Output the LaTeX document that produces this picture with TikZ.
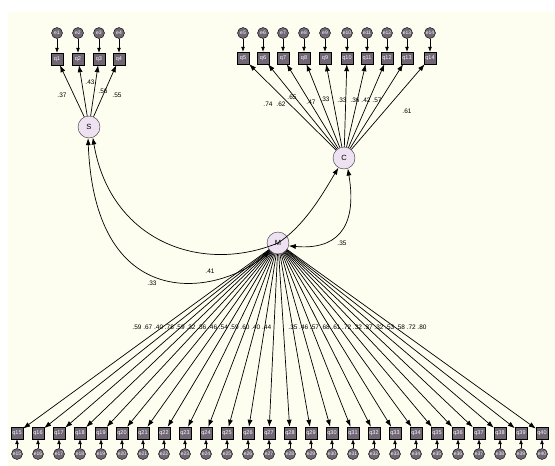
\documentclass[tikz,border=0pt]{standalone}
\usepackage{fontspec}
\setmainfont{Liberation Sans}
\usetikzlibrary{arrows.meta}
\definecolor{cream}{RGB}{253,253,240}
\definecolor{latfill}{RGB}{238,226,242}
\definecolor{obsfill}{RGB}{112,102,116}
\begin{document}
\begin{tikzpicture}[x=1pt,y=-1pt,
	lat/.style={draw=black!80, circle, fill=latfill, minimum size=22pt, inner sep=0pt, font=\fontsize{7.5}{8}\selectfont},
	obs/.style={draw=black, fill=obsfill, text=white, minimum size=12pt, inner sep=0pt, font=\fontsize{5.5}{6}\selectfont},
	err/.style={draw=black, circle, fill=obsfill, text=white, minimum size=11pt, inner sep=0pt, font=\fontsize{5}{5}\selectfont},
	load/.style={line width=0.7pt, -{Latex[length=7pt,width=5pt]}},
	errarrow/.style={line width=0.7pt, -{Latex[length=5pt,width=4pt]}},
	covar/.style={line width=0.7pt, {Latex[length=7pt,width=5pt]}-{Latex[length=7pt,width=5pt]}},
	wt/.style={inner sep=0pt, font=\fontsize{6.5}{7}\selectfont}]

	\useasboundingbox (0,0) rectangle (555,466);
	\fill[cream] (8,12) rectangle (555,466);

	% latent variables
	\node[lat] (S) at (89,127) {S};
	\node[lat] (C) at (344,158) {C};
	\node[lat] (M) at (278,243) {M};

	% S indicators
	\foreach \i/\x in {1/57,2/78,3/99,4/119} {
		\node[obs] (q\i) at (\x,59) {q\i};
		\node[err] (e\i) at (\x,33) {e\i};
		\draw[errarrow] (e\i) -- (q\i);
		\draw[load] (S) -- (q\i);
	}
	\node[wt] at (62,95) {.37};
	\node[wt] at (90,82) {.43};
	\node[wt] at (103,91) {.56};
	\node[wt] at (117,95) {.55};

	% C indicators
	\foreach \i/\x in {5/243,6/263,7/283,8/304,9/325,10/347,11/367,12/387,13/407,14/430} {
		\node[obs] (q\i) at (\x,58) {q\i};
		\node[err] (e\i) at (\x,33) {e\i};
		\draw[errarrow] (e\i) -- (q\i);
		\draw[load] (C) -- (q\i);
	}
	\node[wt] at (268,104) {.74};
	\node[wt] at (281,104) {.62};
	\node[wt] at (292,97) {.65};
	\node[wt] at (311,102) {.47};
	\node[wt] at (325,99) {.33};
	\node[wt] at (342,100) {.33};
	\node[wt] at (355,100) {.36};
	\node[wt] at (366,100) {.42};
	\node[wt] at (377,100) {.57};
	\node[wt] at (407,111) {.61};

	% M indicators
	\foreach \i in {15,...,40} {
		\pgfmathsetmacro{\xq}{17+(\i-15)*21}
		\node[obs] (q\i) at (\xq,433) {q\i};
		\node[err] (e\i) at (\xq,454) {e\i};
		\draw[errarrow] (e\i) -- (q\i);
		\draw[load] (M) -- (q\i);
	}
	\foreach \v [count=\k] in {.59,.67,.40,.78,.59,.32,.36,.46,.54,.59,.60,.40,.44}
		\node[wt] at ({137+(\k-1)*10.8},327) {\v};
	\foreach \v [count=\k] in {.35,.46,.57,.68,.61,.72,.32,.37,.32,.53,.58,.72,.80}
		\node[wt] at ({293+(\k-1)*10.75},327) {\v};

	% structural paths
	\draw[covar] (S.265) .. controls (95,318) and (220,295) .. (M.225);
	\draw[covar] (S.290) .. controls (110,240) and (200,275) .. (M.center)
		.. controls (305,225) and (322,195) .. (C.240);
	\draw[covar] (C.290) .. controls (358,230) and (335,250) .. (M.-15);
	\node[wt] at (152,283) {.33};
	\node[wt] at (210,271) {.41};
	\node[wt] at (342,243) {.35};
\end{tikzpicture}
\end{document}
